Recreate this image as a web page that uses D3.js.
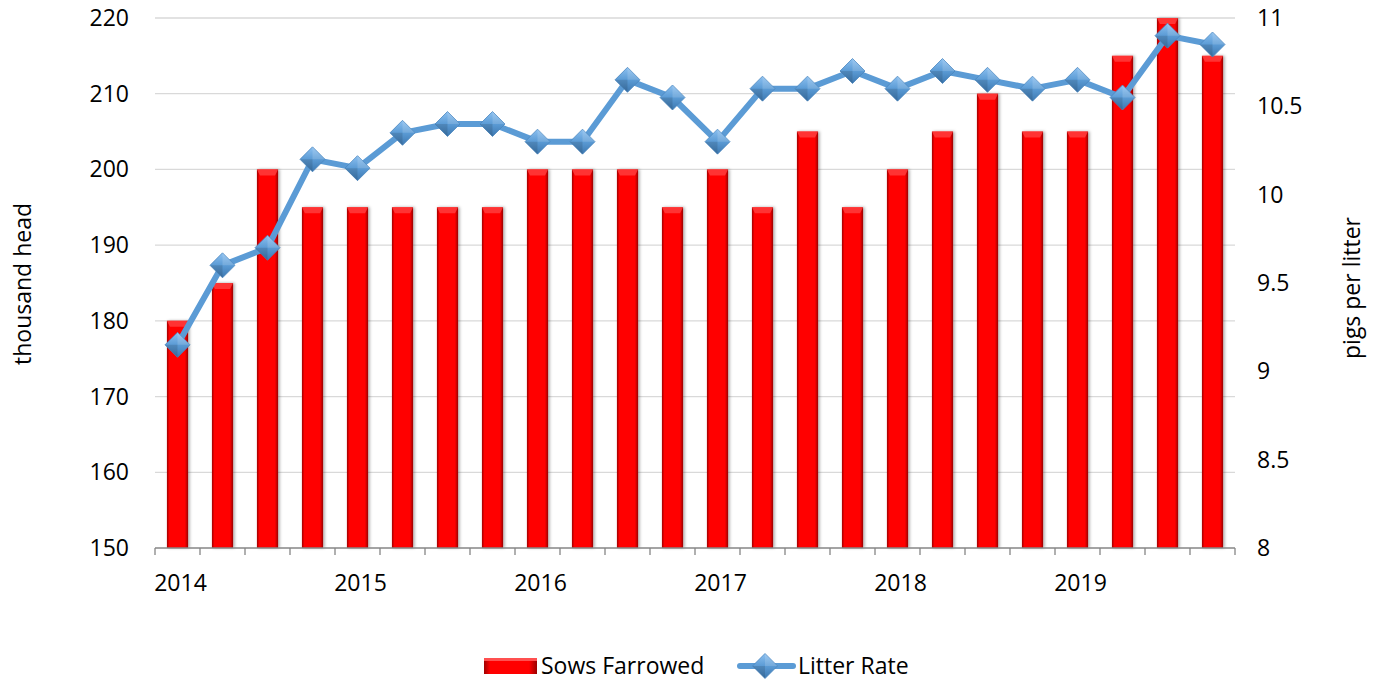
<!DOCTYPE html>
<html><head><meta charset="utf-8">
<script src="https://cdn.jsdelivr.net/npm/d3@7"></script>
<style>body{margin:0;background:#fff;}svg{display:block;font-family:"Open Sans",Lato,sans-serif;}</style>
</head><body>
<svg id="c" width="1375" height="683"></svg>
<script>
const quarters = ["2014Q1","2014Q2","2014Q3","2014Q4","2015Q1","2015Q2","2015Q3","2015Q4","2016Q1","2016Q2","2016Q3","2016Q4","2017Q1","2017Q2","2017Q3","2017Q4","2018Q1","2018Q2","2018Q3","2018Q4","2019Q1","2019Q2","2019Q3","2019Q4"];
const sowsFarrowed = [180,185,200,195,195,195,195,195,200,200,200,195,200,195,205,195,200,205,210,205,205,215,220,215];
const litterRate = [9.15,9.6,9.7,10.2,10.15,10.35,10.4,10.4,10.3,10.3,10.65,10.55,10.3,10.6,10.6,10.7,10.6,10.7,10.65,10.6,10.65,10.55,10.9,10.85];
const leftTicks = [150,160,170,180,190,200,210,220];
const rightTicks = [8,8.5,9,9.5,10,10.5,11];
const yearLabels = ["2014","2015","2016","2017","2018","2019"];

const FS = 23;
const svg = d3.select("#c");
const L = 155, R = 1235, T = 18, B = 548;
const x = d3.scaleBand().domain(quarters).range([L,R]).paddingInner(0.53).paddingOuter(0.265);
const xb = d3.scaleBand().domain(quarters).range([L,R]);
const yL = d3.scaleLinear().domain([150,220]).range([B,T]);
const yR = d3.scaleLinear().domain([8,11]).range([B,T]);

const defs = svg.append("defs");
const gb = defs.append("linearGradient").attr("id","barG").attr("x1",0).attr("x2",1).attr("y1",0).attr("y2",0);
[[0,"#a00000"],[0.12,"#ff0000"],[0.85,"#ff0000"],[1,"#9a0000"]].forEach(s=>gb.append("stop").attr("offset",s[0]).attr("stop-color",s[1]));
const gd = defs.append("linearGradient").attr("id","diaG").attr("x1",0).attr("x2",0).attr("y1",0).attr("y2",1);
[[0,"#8cc0f0"],[0.5,"#5b9bd5"],[1,"#3d78b0"]].forEach(s=>gd.append("stop").attr("offset",s[0]).attr("stop-color",s[1]));
const flt = defs.append("filter").attr("id","sh").attr("x","-30%").attr("y","-10%").attr("width","160%").attr("height","120%");
flt.append("feDropShadow").attr("dx",1.5).attr("dy",0).attr("stdDeviation",1.5).attr("flood-color","#000").attr("flood-opacity",0.35);

// gridlines
svg.append("g").selectAll("line").data(leftTicks.slice(1)).join("line")
  .attr("x1",L).attr("x2",R).attr("y1",d=>yL(d)).attr("y2",d=>yL(d))
  .attr("stroke","#d9d9d9").attr("stroke-width",1.3);

// bars
svg.append("g").selectAll("rect").data(sowsFarrowed).join("rect")
  .attr("x",(d,i)=>x(quarters[i])).attr("width",x.bandwidth())
  .attr("y",d=>yL(d)).attr("height",d=>B-yL(d))
  .attr("fill","url(#barG)").attr("filter","url(#sh)");
svg.append("g").selectAll("path").data(sowsFarrowed).join("path")
  .attr("d",(d,i)=>{const x0=x(quarters[i]),w=x.bandwidth(),y0=yL(d);return `M${x0},${y0}L${x0+w},${y0}L${x0+w-3},${y0+6}L${x0+3},${y0+6}Z`;})
  .attr("fill","#ff4040").attr("opacity",0.8);

// x axis
const xa = svg.append("g");
xa.append("line").attr("x1",L).attr("x2",R).attr("y1",B).attr("y2",B).attr("stroke","#868686").attr("stroke-width",1.3);
xa.selectAll("line.t").data(quarters.concat(["end"])).join("line").attr("class","t")
  .attr("x1",(d,i)=>L+i*xb.step()).attr("x2",(d,i)=>L+i*xb.step())
  .attr("y1",B).attr("y2",B+7).attr("stroke","#868686").attr("stroke-width",1.3);
xa.selectAll("text").data(yearLabels).join("text")
  .attr("x",(d,i)=>x(quarters[i*4])+x.bandwidth()/2+3).attr("y",591)
  .attr("text-anchor","middle").attr("font-size",FS).attr("fill","#000").text(d=>d);

// left axis labels
svg.append("g").selectAll("text").data(leftTicks).join("text")
  .attr("x",129).attr("y",d=>yL(d)+8).attr("text-anchor","end")
  .attr("font-size",FS).attr("fill","#000").text(d=>d);
// right axis labels
svg.append("g").selectAll("text").data(rightTicks).join("text")
  .attr("x",1257).attr("y",d=>yR(d)+8).attr("text-anchor","start")
  .attr("font-size",FS).attr("fill","#000").text(d=>d);

// axis titles
svg.append("text").attr("transform","translate(31,284) rotate(-90)").attr("text-anchor","middle")
  .attr("font-size",FS).text("thousand head");
svg.append("text").attr("transform","translate(1360,288) rotate(-90)").attr("text-anchor","middle")
  .attr("font-size",FS).text("pigs per litter");

// line
const line = d3.line().x((d,i)=>x(quarters[i])+x.bandwidth()/2).y(d=>yR(d));
svg.append("path").datum(litterRate).attr("d",line).attr("fill","none")
  .attr("stroke","#5b9bd5").attr("stroke-width",6).attr("stroke-linejoin","round");
function diamond(g,cx,cy,r){
  g.append("path").attr("d",`M${cx},${cy-r}L${cx+r},${cy}L${cx},${cy+r}L${cx-r},${cy}Z`)
   .attr("fill","url(#diaG)").attr("stroke","#4a86bf").attr("stroke-width",0.8);
  g.append("path").attr("d",`M${cx},${cy-r}L${cx+r},${cy}L${cx},${cy}Z`).attr("fill","#fff").attr("opacity",0.15);
  g.append("path").attr("d",`M${cx},${cy+r}L${cx-r},${cy}L${cx},${cy}Z`).attr("fill","#000").attr("opacity",0.12);
}
const mg = svg.append("g");
litterRate.forEach((d,i)=>diamond(mg, x(quarters[i])+x.bandwidth()/2, yR(d), 12.5));

// legend
const lg = svg.append("g");
lg.append("rect").attr("x",484).attr("y",658).attr("width",53).attr("height",16).attr("fill","url(#barG)");
lg.append("rect").attr("x",484).attr("y",658).attr("width",53).attr("height",3).attr("fill","#ff5050");
lg.append("text").attr("x",541).attr("y",674).attr("font-size",FS).text("Sows Farrowed");
lg.append("line").attr("x1",740).attr("x2",793).attr("y1",666).attr("y2",666).attr("stroke","#5b9bd5").attr("stroke-width",6).attr("stroke-linecap","round");
diamond(lg,765,666,12.5);
lg.append("text").attr("x",798).attr("y",674).attr("font-size",FS).text("Litter Rate");
</script>
</body></html>
